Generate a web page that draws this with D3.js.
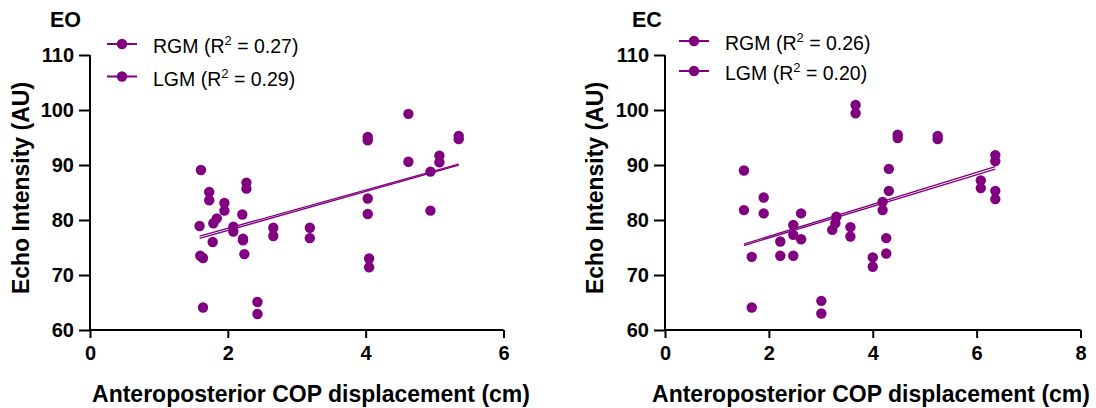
<!DOCTYPE html>
<html>
<head>
  <meta charset="utf-8">
  <script src="https://cdn.jsdelivr.net/npm/d3@7"></script>
  <style>
    body { margin: 0; background: #fff; }
    text { font-family: Arial, "Liberation Sans", Helvetica, sans-serif; fill: #000; }
  </style>
</head>
<body>
<script>
  // ---- data ----
  // EO panel: [COP displacement (cm), echo intensity (AU)]
  var eoRGM = [[1.61,89.1],[1.60,73.5],[1.64,64.1],[1.73,85.1],[1.84,80.3],[1.95,83.1],[2.08,78.8],[2.21,81.0],
               [2.22,76.3],[2.27,86.8],[2.43,65.1],[2.66,78.6],[3.19,78.6],[4.03,95.1],[4.03,83.9],[4.05,73.0],
               [4.62,99.3],[4.94,88.8],[5.07,91.7],[5.35,95.3]];
  var eoLGM = [[1.59,78.9],[1.64,73.1],[1.78,76.0],[1.73,83.6],[1.79,79.4],[1.95,81.7],[2.08,77.9],[2.22,76.6],
               [2.24,73.8],[2.27,85.7],[2.43,62.9],[2.66,77.1],[3.19,76.7],[4.03,94.5],[4.03,81.1],[4.05,71.4],
               [4.62,90.6],[4.94,81.7],[5.07,90.5],[5.35,94.7]];
  // EC panel
  var ecRGM = [[1.52,89.0],[1.90,84.1],[1.67,73.3],[2.22,76.1],[2.47,79.1],[2.47,73.5],[2.62,81.2],[3.30,80.6],
               [3.22,78.2],[3.57,78.7],[3.67,100.9],[3.01,65.3],[4.00,73.2],[4.19,83.3],[4.26,76.7],[4.31,89.3],
               [4.48,95.5],[5.25,95.3],[6.08,87.2],[6.36,91.8]];
  var ecLGM = [[1.52,81.8],[1.90,81.2],[1.67,64.1],[2.22,73.5],[2.47,77.3],[2.62,76.5],[3.28,79.4],[3.57,77.0],
               [3.67,99.4],[3.01,63.0],[4.00,71.5],[4.19,81.8],[4.26,73.9],[4.31,85.3],[4.48,94.9],[5.25,94.7],
               [6.08,85.8],[6.36,90.7],[6.36,85.3],[6.36,83.8]];

  // fitted lines (slope, intercept) and R² labels
  var eoFits = [{name: "RGM", r2: "0.27", slope: 3.49, intercept: 71.5},
                {name: "LGM", r2: "0.29", slope: 3.55, intercept: 71.0}];
  var ecFits = [{name: "RGM", r2: "0.26", slope: 2.91, intercept: 71.2},
                {name: "LGM", r2: "0.20", slope: 2.87, intercept: 71.0}];

  var yTicks = [60, 70, 80, 90, 100, 110];
  var eoXTicks = [0, 2, 4, 6];
  var ecXTicks = [0, 2, 4, 6, 8];

  var purple = "#800080";
  var svg = d3.select("body").append("svg").attr("width", 1096).attr("height", 408);

  function drawPanel(p) {
    var x = d3.scaleLinear().domain([0, p.xMax]).range([p.left, p.right]);
    var y = d3.scaleLinear().domain([60, 110]).range([330, 55]);
    var g = svg.append("g");

    // axes
    var xa = g.append("g").attr("transform", "translate(0,330)")
      .call(d3.axisBottom(x).tickValues(p.xTicks).tickFormat(d3.format("d"))
        .tickSize(8).tickSizeOuter(0).tickPadding(8));
    var ya = g.append("g").attr("transform", "translate(" + p.left + ",0)")
      .call(d3.axisLeft(y).tickValues(yTicks).tickSize(11).tickSizeOuter(0).tickPadding(5));
    [xa, ya].forEach(function (a) {
      a.selectAll("path, line").attr("stroke", "#000").attr("stroke-width", 2);
      a.selectAll("text").style("font-size", "20px").style("font-weight", "bold").attr("fill", "#000");
    });
    ya.select(".domain").attr("d", "M0,55V331");
    xa.select(".domain").attr("d", "M" + (p.left - 1) + ",0H" + p.right);

    // fit lines
    var all = p.rgm.concat(p.lgm);
    var x0 = d3.min(all, function (d) { return d[0]; }), x1 = d3.max(all, function (d) { return d[0]; });
    p.fits.forEach(function (f) {
      g.append("line")
        .attr("x1", x(x0)).attr("y1", y(f.slope * x0 + f.intercept))
        .attr("x2", x(x1)).attr("y2", y(f.slope * x1 + f.intercept))
        .attr("stroke", purple).attr("stroke-width", 1.3);
    });

    // points
    g.selectAll("circle.pt").data(all).enter().append("circle")
      .attr("class", "pt")
      .attr("cx", function (d) { return x(d[0]); })
      .attr("cy", function (d) { return y(d[1]); })
      .attr("r", 5.2)
      .attr("fill", purple);

    // titles
    g.append("text").attr("x", p.titleX).attr("y", 27)
      .style("font-size", "21.5px").style("font-weight", "bold").text(p.title);
    g.append("text").attr("transform", "translate(" + p.yLabX + ",188) rotate(-90)")
      .attr("text-anchor", "middle").style("font-size", "23px").style("font-weight", "bold")
      .text("Echo Intensity (AU)");
    g.append("text").attr("x", p.xLabX).attr("y", 402)
      .attr("text-anchor", "middle").style("font-size", "23px").style("font-weight", "bold")
      .text("Anteroposterior COP displacement (cm)");

    // legend
    p.fits.forEach(function (f, i) {
      var ly = p.legY + i * p.legGap;
      g.append("line").attr("x1", p.legX).attr("x2", p.legX + 30).attr("y1", ly).attr("y2", ly)
        .attr("stroke", purple).attr("stroke-width", 2);
      g.append("circle").attr("cx", p.legX + 15).attr("cy", ly).attr("r", 5.2).attr("fill", purple);
      var t = g.append("text").attr("x", p.legX + 46).attr("y", ly + 9).style("font-size", "19.5px");
      t.append("tspan").text(f.name + " (R");
      t.append("tspan").attr("dy", -8).style("font-size", "13px").text("2");
      t.append("tspan").attr("dy", 8).text(" = " + f.r2 + ")");
    });
  }

  drawPanel({left: 90, right: 503.5, xMax: 6, xTicks: eoXTicks, rgm: eoRGM, lgm: eoLGM, fits: eoFits,
             title: "EO", titleX: 50, yLabX: 29, xLabX: 311, legX: 107, legY: 44, legGap: 32.5});
  drawPanel({left: 665, right: 1080.5, xMax: 8, xTicks: ecXTicks, rgm: ecRGM, lgm: ecLGM, fits: ecFits,
             title: "EC", titleX: 632, yLabX: 603, xLabX: 871, legX: 679, legY: 41, legGap: 30});
</script>
</body>
</html>
